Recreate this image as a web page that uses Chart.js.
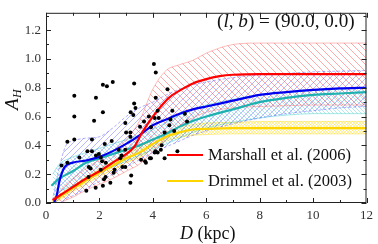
<!DOCTYPE html>
<html><head><meta charset="utf-8">
<script src="https://cdn.jsdelivr.net/npm/chart.js@4.4.1/dist/chart.umd.min.js"></script>
<style>html,body{margin:0;padding:0;background:#fff}</style>
</head><body>
<canvas id="c" width="378" height="244"></canvas>
<script>
// tick labels
const xTicks = [0, 2, 4, 6, 8, 10, 12];
const yTicks = [0.0, 0.2, 0.4, 0.6, 0.8, 1.0, 1.2];

// stars (D in kpc, A_H)
const starD = [1.06,1.06,1.87,2.13,2.28,2.5,2.13,1.8,3.3,4.04,4.11,4.55,3.3,3.35,3.17,3.27,2.97,3.67,4.11,3.85,4.18,4.73,5.2,4.07,4.22,4.66,5.28,3.52,3.93,4.62,3.16,4.44,4.8,
  1.72,2.2,2.46,3.0,3.16,2.97,1.98,2.05,1.87,2.1,2.24,2.83,3.74,4.07,4.1,3.93,4.33,3.19,2.05,2.17,
  0.58,0.8,0.8,1.06,1.25,1.55,1.72,1.6,1.67,1.59,1.51,1.86,2.13,2.23,2.41,2.53,2.78,2.72,2.57,3.16,2.97,2.86,3.56,3.89,4.3,4.92,4.44,3.71,4.18];
const starA = [0.745,0.60,0.73,0.82,0.81,0.84,0.63,0.57,0.83,0.965,0.905,0.79,0.69,0.66,0.63,0.61,0.555,0.565,0.73,0.60,0.64,0.64,0.62,0.59,0.59,0.58,0.565,0.53,0.525,0.54,0.49,0.49,0.50,
  0.44,0.41,0.43,0.49,0.46,0.37,0.34,0.315,0.33,0.29,0.28,0.33,0.28,0.35,0.36,0.31,0.40,0.19,0.23,0.165,
  0.26,0.28,0.425,0.44,0.315,0.36,0.36,0.25,0.24,0.18,0.085,0.105,0.12,0.18,0.14,0.21,0.31,0.37,0.23,0.14,0.25,0.25,0.30,0.31,0.37,0.36,0.31,0.29,0.35];

// model curves
const redD = [0.25,0.5,1,1.5,2,2.5,3,3.3,3.6,4,4.3,4.6,5,5.5,6,6.5,7,8,10,12];
const redA = [0.02,0.05,0.11,0.17,0.22,0.28,0.34,0.39,0.49,0.60,0.67,0.73,0.78,0.83,0.86,0.88,0.89,0.895,0.895,0.895];
const blueD = [0.3,0.4,0.5,0.6,0.7,1,1.5,2,2.5,3,3.5,4,4.5,5,5.5,6,7,8,9,10,11,12];
const blueA = [0.0,0.05,0.15,0.21,0.25,0.28,0.295,0.32,0.36,0.41,0.47,0.54,0.58,0.62,0.65,0.67,0.71,0.75,0.77,0.785,0.795,0.80];
const tealD = [0.2,0.5,1,1.5,2,2.5,3,3.5,4,4.5,5,5.5,6,7,8,9,10,11,12];
const tealA = [0.12,0.17,0.22,0.28,0.31,0.34,0.37,0.40,0.44,0.48,0.53,0.57,0.60,0.65,0.70,0.73,0.75,0.76,0.77];

// uncertainty bands, all on the same distance grid
const bandD = [0.25,0.5,0.75,1,1.5,2,2.5,3,3.5,4,4.5,5,5.5,6,7,8,9,10,11,12];
const yellowA  = [0.01,0.04,0.07,0.10,0.155,0.21,0.26,0.31,0.35,0.41,0.46,0.49,0.51,0.515,0.52,0.52,0.52,0.52,0.52,0.52];
const yellowHi = [0.03,0.06,0.09,0.12,0.18,0.235,0.29,0.34,0.385,0.44,0.49,0.525,0.545,0.555,0.56,0.565,0.565,0.565,0.565,0.565];
const yellowLo = [0.0,0.02,0.05,0.08,0.13,0.185,0.23,0.28,0.315,0.38,0.43,0.455,0.47,0.475,0.48,0.48,0.48,0.48,0.48,0.48];
const redHi  = [0.03,0.08,0.13,0.17,0.24,0.30,0.36,0.44,0.57,0.79,0.92,0.96,0.99,1.04,1.10,1.11,1.11,1.11,1.11,1.11];
const redLo  = [0.0,0.0,0.02,0.04,0.09,0.13,0.17,0.22,0.27,0.36,0.45,0.54,0.59,0.63,0.66,0.67,0.675,0.68,0.68,0.68];
const blueHi = [0.02,0.25,0.40,0.43,0.45,0.46,0.52,0.60,0.66,0.70,0.75,0.79,0.82,0.84,0.87,0.89,0.90,0.91,0.915,0.92];
const blueLo = [0.0,0.0,0.03,0.05,0.10,0.15,0.20,0.25,0.30,0.35,0.39,0.43,0.47,0.50,0.55,0.59,0.62,0.64,0.66,0.67];
const tealHi = [0.20,0.27,0.30,0.32,0.35,0.38,0.41,0.44,0.47,0.51,0.56,0.61,0.65,0.68,0.72,0.75,0.77,0.78,0.79,0.80];
const tealLo = [0.05,0.08,0.10,0.12,0.16,0.21,0.25,0.29,0.33,0.37,0.41,0.45,0.49,0.52,0.56,0.59,0.61,0.62,0.62,0.62];

const pts = (xs, ys) => xs.map((x, i) => ({ x: x, y: ys[i] }));

function hatch(color, size, dir, lw) {
    const c = document.createElement('canvas');
    c.width = c.height = size;
    const g = c.getContext('2d');
    g.strokeStyle = color;
    g.lineWidth = lw;
    const seg = (a, b, d, e) => { g.beginPath(); g.moveTo(a, b); g.lineTo(d, e); g.stroke(); };
    if (dir.includes('/')) { seg(-1, size + 1, size + 1, -1); seg(-1, 1, 1, -1); seg(size - 1, size + 1, size + 1, size - 1); }
    if (dir.includes('\\')) { seg(-1, -1, size + 1, size + 1); seg(size - 1, -1, size + 1, 1); seg(-1, size - 1, 1, size + 1); }
    return g.createPattern(c, 'repeat');
}

const serif = '"Liberation Serif", "DejaVu Serif", serif';

function band(lo, hi, color, pattern, dash, base) {
    return [
        { data: pts(bandD, lo), borderColor: color, borderWidth: 0.7, borderDash: dash, pointRadius: 0, fill: false, order: 3, cubicInterpolationMode: 'monotone' },
        { data: pts(bandD, hi), borderColor: color, borderWidth: 0.7, borderDash: dash, pointRadius: 0, fill: base, backgroundColor: pattern, order: 3, cubicInterpolationMode: 'monotone' }
    ];
}

function curve(xs, ys, color) {
    return { data: pts(xs, ys), borderColor: color, borderWidth: 2.2, pointRadius: 0, fill: false, order: 1, cubicInterpolationMode: 'monotone' };
}

const datasets = [
    { data: pts(starD, starA), showLine: false, pointRadius: 2, pointBackgroundColor: '#000', pointBorderColor: '#000', pointBorderWidth: 0, order: 0 },
    curve(redD, redA, '#ff0000'),
    curve(blueD, blueA, '#0000ee'),
    curve(tealD, tealA, '#1fb0b0'),
    curve(bandD, yellowA, '#ffd500')
];
// indexes 5.. for bands
datasets.push(...band(redLo, redHi, 'rgba(255,80,80,0.55)', hatch('rgba(255,60,60,0.55)', 7, '\\', 0.8), [], 5));
datasets.push(...band(blueLo, blueHi, 'rgba(60,60,255,0.6)', hatch('rgba(60,60,255,0.45)', 6, '/', 0.8), [3, 2], 7));
datasets.push(...band(tealLo, tealHi, 'rgba(40,200,200,0.6)', hatch('rgba(40,190,200,0.5)', 4, '\\', 0.7), [], 9));
datasets.push(...band(yellowLo, yellowHi, 'rgba(255,215,0,0.6)', hatch('rgba(255,215,0,0.6)', 3, '/\\', 0.6), [], 11));

const frame = {
    id: 'frame',
    afterDraw(chart) {
        const { ctx, chartArea: a, scales: { x, y } } = chart;
        ctx.save();
        ctx.strokeStyle = '#222';
        ctx.lineWidth = 1;
        // inward ticks on all sides
        ctx.beginPath();
        for (let v = 0; v <= 12; v += 1) {
            const px = Math.round(x.getPixelForValue(v)) + 0.5;
            const len = v % 2 === 0 ? 5 : 3;
            ctx.moveTo(px, a.bottom); ctx.lineTo(px, a.bottom - len);
            ctx.moveTo(px, a.top); ctx.lineTo(px, a.top + len);
        }
        for (let k = 0; k <= 13; k++) {
            const py = Math.round(y.getPixelForValue(k / 10)) + 0.5;
            const len = k % 2 === 0 ? 5 : 3;
            ctx.moveTo(a.left, py); ctx.lineTo(a.left + len, py);
            ctx.moveTo(a.right, py); ctx.lineTo(a.right - len, py);
        }
        ctx.stroke();
        ctx.strokeRect(a.left + 0.5, a.top + 0.5, a.right - a.left - 1, a.bottom - a.top - 1);

        // annotation, fitted to span x 217..355
        ctx.fillStyle = '#111';
        ctx.textBaseline = 'alphabetic';
        ctx.textAlign = 'left';
        const parts = [['(', ''], ['l', 'italic '], [', ', ''], ['b', 'italic '], [') = (90.0, 0.0)', '']];
        let size = 18, w = 0;
        parts.forEach(p => { ctx.font = p[1] + size + 'px ' + serif; w += ctx.measureText(p[0]).width; });
        size = Math.round(size * 138 / w * 10) / 10;
        let tx = 217;
        parts.forEach(p => { ctx.font = p[1] + size + 'px ' + serif; ctx.fillText(p[0], tx, 26.5); tx += ctx.measureText(p[0]).width; });

        // legend
        ctx.lineWidth = 2.2;
        ctx.strokeStyle = '#ff0000';
        ctx.beginPath(); ctx.moveTo(167, 155); ctx.lineTo(203, 155); ctx.stroke();
        ctx.strokeStyle = '#ffd500';
        ctx.beginPath(); ctx.moveTo(167, 181); ctx.lineTo(203, 181); ctx.stroke();
        ctx.font = '16.5px ' + serif;
        ctx.fillText('Marshall et al. (2006)', 208, 160);
        ctx.fillText('Drimmel et al. (2003)', 208, 186);

        // x axis title
        tx = 180;
        ctx.font = 'italic 18px ' + serif; ctx.fillText('D', tx, 239); tx += ctx.measureText('D ').width;
        ctx.font = '18px ' + serif; ctx.fillText('(kpc)', tx, 239);

        // y axis title
        ctx.textBaseline = 'middle';
        ctx.translate(13, 102);
        ctx.rotate(-Math.PI / 2);
        ctx.font = 'italic 19px ' + serif;
        ctx.fillText('A', -8, 0);
        ctx.font = 'italic 12px ' + serif;
        ctx.fillText('H', 4, 5);
        ctx.restore();
    }
};

new Chart(document.getElementById('c'), {
    type: 'line',
    data: { datasets: datasets },
    options: {
        responsive: false,
        animation: false,
        devicePixelRatio: 1,
        layout: { padding: { top: 2, right: 5, left: 0, bottom: 0 } },
        plugins: { legend: { display: false }, tooltip: { enabled: false } },
        scales: {
            x: {
                type: 'linear', min: 0, max: 12,
                grid: { display: false, drawTicks: false },
                border: { display: false },
                afterBuildTicks: s => { s.ticks = xTicks.map(v => ({ value: v })); },
                afterFit: s => { s.height = 41; },
                ticks: { color: '#333', padding: 5, maxRotation: 0, font: { family: serif, size: 13 }, callback: v => String(v) }
            },
            y: {
                type: 'linear', min: 0, max: 1.32,
                grid: { display: false, drawTicks: false },
                border: { display: false },
                afterBuildTicks: s => { s.ticks = yTicks.map(v => ({ value: v })); },
                afterFit: s => { s.width = 46; },
                ticks: { color: '#333', padding: 5, font: { family: serif, size: 13 }, callback: v => v.toFixed(1) }
            }
        }
    },
    plugins: [frame]
});
</script>
</body></html>
